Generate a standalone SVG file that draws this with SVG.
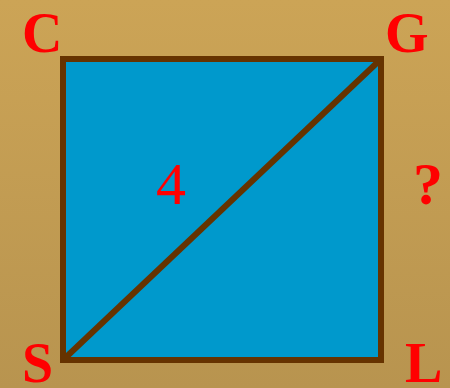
<svg xmlns="http://www.w3.org/2000/svg" width="450" height="388" viewBox="0 0 450 388">
<defs>
<linearGradient id="bg" x1="0" y1="0" x2="0" y2="1">
<stop offset="0" stop-color="#CCA456"/>
<stop offset="1" stop-color="#B8944F"/>
</linearGradient>
</defs>
<style>
.lbl{font-family:"Liberation Serif","Times New Roman",serif;fill:#FF0000;font-weight:bold;font-size:56px}
.num{font-family:"Liberation Serif","Times New Roman",serif;fill:#FF0000;font-size:60px}
.edge{stroke:#663300;stroke-width:6;fill:none}
.face{stroke:#663300;stroke-width:6;fill:#0099CC}
</style>
<rect width="450" height="388" fill="url(#bg)"/>
<g id="square">
<rect x="63" y="59" width="318" height="301" class="face"/>
</g>
<g id="connectors">
<line x1="63" y1="360" x2="381" y2="59" class="edge"/>
</g>
<g id="C"><text x="22" y="52" class="lbl">C</text></g>
<g id="G"><text x="385" y="52" class="lbl">G</text></g>
<g id="S"><text x="22" y="382" class="lbl">S</text></g>
<g id="L"><text x="405" y="382" class="lbl">L</text></g>
<g id="n4"><text x="156" y="204" class="num">4</text></g>
<g id="q"><text x="413" y="204" class="lbl" style="font-size:60px">?</text></g>
</svg>
